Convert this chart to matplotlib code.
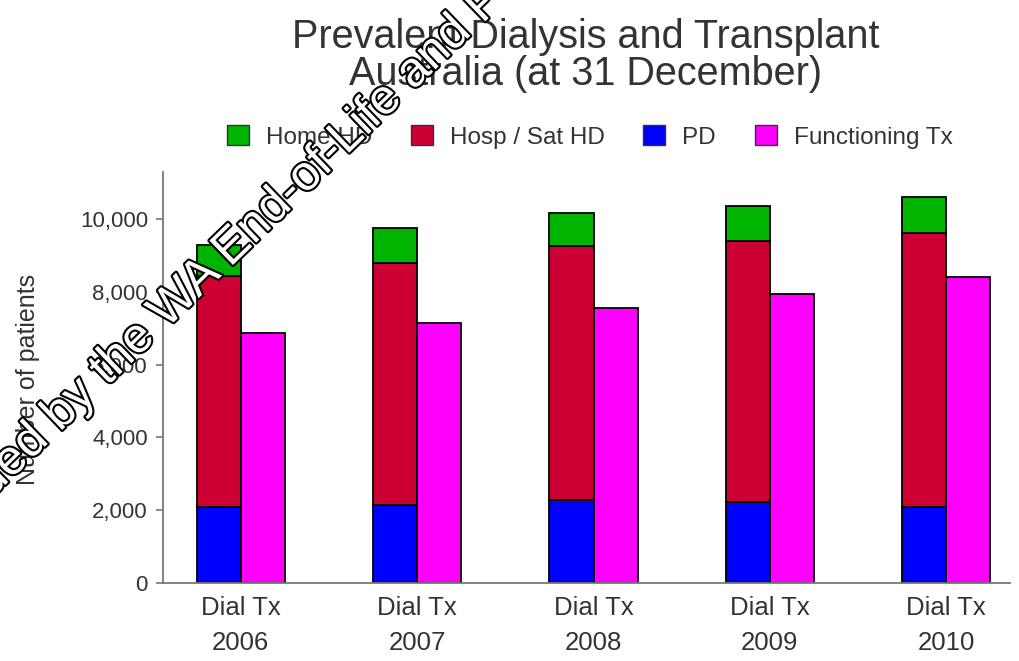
import matplotlib
matplotlib.use("Agg")
import matplotlib.pyplot as plt
import matplotlib.patheffects as pe
from matplotlib.patches import Patch
from matplotlib.ticker import StrMethodFormatter
import numpy as np

plt.rcParams['font.family'] = ['Liberation Sans', 'DejaVu Sans']

# Values (patients at 31 December)
years = ['2006', '2007', '2008', '2009', '2010']
pd_patients = [2080, 2140, 2270, 2220, 2080]
hosp_sat_hd = [6360, 6660, 6990, 7180, 7530]
home_hd = [850, 960, 900, 960, 1010]
functioning_tx = [6880, 7150, 7560, 7950, 8410]

green = '#00B400'
red = '#CC0033'
blue = '#0000FF'
magenta = '#FF00FF'
text_col = '#333333'

fig = plt.figure(figsize=(10.2, 6.61), dpi=100)
ax = fig.add_axes([0.160, 0.118, 0.830, 0.622])

x = np.arange(len(years))
w = 0.25
edge = dict(edgecolor='black', linewidth=1.3)

# Dialysis stacked bar (left) and transplant bar (right) for each year
ax.bar(x - w / 2, pd_patients, w, color=blue, **edge)
ax.bar(x - w / 2, hosp_sat_hd, w, bottom=pd_patients, color=red, **edge)
dial_sub = np.array(pd_patients) + np.array(hosp_sat_hd)
ax.bar(x - w / 2, home_hd, w, bottom=dial_sub, color=green, **edge)
ax.bar(x + w / 2, functioning_tx, w, color=magenta, **edge)

ax.set_xlim(-0.44, 4.36)
ax.set_ylim(0, 11300)
ax.set_yticks([0, 2000, 4000, 6000, 8000, 10000])
ax.yaxis.set_major_formatter(StrMethodFormatter('{x:,.0f}'))
ax.set_xticks(x)
ax.set_xticklabels(['Dial Tx\n' + y for y in years], linespacing=1.6)

for s in ['top', 'right']:
    ax.spines[s].set_visible(False)
for s in ['left', 'bottom']:
    ax.spines[s].set_color('#777777')
    ax.spines[s].set_linewidth(1.3)

ax.tick_params(axis='y', length=5, width=1.2, color='#777777', pad=6,
               labelsize=16, labelcolor=text_col)
ax.tick_params(axis='x', length=0, pad=9, labelsize=18.5, labelcolor=text_col)

fig.text(0.027, 1 - 379 / 661, 'Number of patients', rotation=90,
         ha='center', va='center', fontsize=18, color=text_col)

# Title
fig.text(0.5745, 1 - 48 / 661, 'Prevalent Dialysis and Transplant',
         ha='center', va='baseline', fontsize=28.5, color=text_col)
fig.text(0.5745, 1 - 85 / 661, 'Australia (at 31 December)',
         ha='center', va='baseline', fontsize=28.5, color=text_col)

# Legend
handles = [Patch(facecolor=green, edgecolor='#333333', label='Home HD'),
           Patch(facecolor=red, edgecolor='#333333', label='Hosp / Sat HD'),
           Patch(facecolor=blue, edgecolor='#333333', label='PD'),
           Patch(facecolor=magenta, edgecolor='#333333', label='Functioning Tx')]
leg = fig.legend(handles=handles, loc='center', bbox_to_anchor=(0.578, 1 - 137 / 661),
                 ncol=4, frameon=False, fontsize=17.5, handlelength=0.9,
                 handleheight=0.9, handletextpad=0.7, columnspacing=1.6)
for t in leg.get_texts():
    t.set_color(text_col)

# Watermark across the page
fig.text(-0.147, 0.066, 'Superseded by the WA End-of-Life and Palliative Care',
         rotation=44, rotation_mode='anchor', ha='left', va='center',
         fontsize=35.5, color='white', zorder=20,
         path_effects=[pe.Stroke(linewidth=3, foreground='black'), pe.Normal()])

fig.savefig('out.png', dpi=100)
